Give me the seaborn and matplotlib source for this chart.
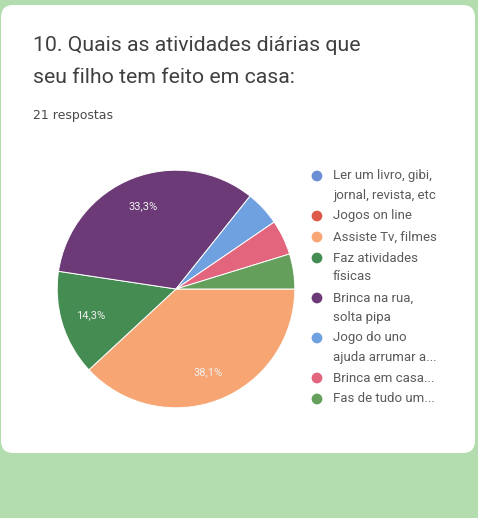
import numpy as np
import seaborn as sns
import matplotlib.pyplot as plt
from matplotlib.patches import FancyBboxPatch

# data (21 answers)
categories = ['Ler um livro, gibi,\njornal, revista, etc', 'Jogos on line', 'Assiste Tv, filmes',
              'Faz atividades\nfísicas', 'Brinca na rua,\nsolta pipa', 'Jogo do uno\najuda arrumar a...',
              'Brinca em casa...', 'Fas de tudo um...']
counts = [0, 0, 8, 3, 7, 1, 1, 1]
colors = ['#6a8fd3', '#dc5a4c', '#f7a673', '#458c52', '#6c3a76', '#6fa0df', '#e2647d', '#64a05c']
title = '10. Quais as atividades diárias que\nseu filho tem feito em casa:'
subtitle = '21 respostas'

sns.set_style('white')
plt.rcParams['font.family'] = ['Roboto', 'DejaVu Sans']

W, H = 478, 518
fig = plt.figure(figsize=(W / 100, H / 100), dpi=100)
fig.patch.set_facecolor('#b3ddae')

# white card behind everything
card = FancyBboxPatch((1 / W, (H - 453) / H), 474 / W, 448 / H,
                      boxstyle='round,pad=0,rounding_size=0.025',
                      transform=fig.transFigure, facecolor='white', edgecolor='none', zorder=-5)
fig.patches.append(card)

fig.text(33 / W, 1 - 36 / H, title, ha='left', va='top', fontsize=15.3,
         color='#404040', linespacing=1.85)
fig.text(33 / W, 1 - 116 / H, subtitle, ha='left', va='center', fontsize=9,
         color='#4a4a4a', family=['DejaVu Sans'])

# pie
cx, cy, r = 176, 289, 120
ax = fig.add_axes([(cx - r) / W, (H - cy - r) / H, 2 * r / W, 2 * r / H])
ax.set_facecolor('none')
pal = sns.color_palette(colors)


def pct(p):
    if p < 10:
        return ''
    return ('%.1f' % p).replace('.', ',') + '%'


wedges, texts, autotexts = ax.pie(counts, colors=pal, startangle=0, counterclock=False,
                                  autopct=pct, pctdistance=0.75, radius=1,
                                  wedgeprops=dict(edgecolor='white', linewidth=0.7),
                                  textprops=dict(color='#f0f0f0', fontsize=8))
ax.set_xlim(-1.01, 1.01)
ax.set_ylim(-1.01, 1.01)
ax.axis('off')

# legend drawn by hand so the marker sits on the first line
lax = fig.add_axes([0, 0, 1, 1])
lax.set_facecolor('none')
lax.set_xlim(0, W)
lax.set_ylim(H, 0)
lax.axis('off')
y = 176
for lab, col in zip(categories, pal):
    lax.scatter([317], [y], s=60, color=col, edgecolor='none')
    lines = lab.split('\n')
    for j, line in enumerate(lines):
        lax.text(333, y + j * 19, line, ha='left', va='center', fontsize=9.5, color='#5a5a5a')
    y += 19 * (len(lines) - 1) + 21

fig.savefig('out.png', dpi=100, facecolor=fig.get_facecolor())
